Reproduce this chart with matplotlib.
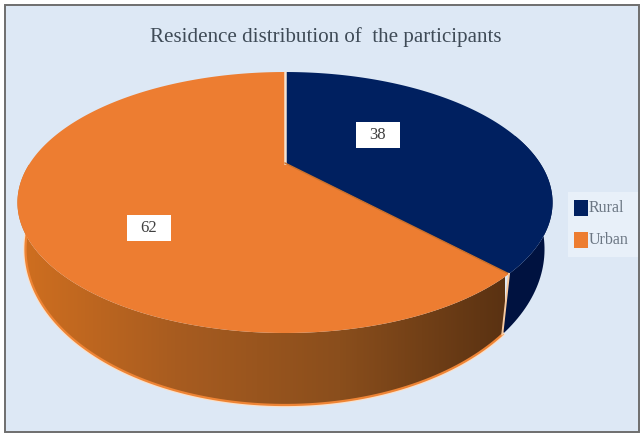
import numpy as np
import matplotlib
matplotlib.use("Agg")
import matplotlib.pyplot as plt
from matplotlib.patches import Rectangle, Polygon

TITLE = "Residence distribution of  the participants"
categories = ["Rural", "Urban"]
values = [38, 62]
colors = ["#002060", "#ED7D31"]

CX, CY = 285, 163      # pie centre after projection
KX, KY, PERSP = 255, 69.2, -0.3027
DEPTH, BOTTOM_SCALE = 72, 0.97


def project(theta, r=1.0, lower=False):
    # theta clockwise from 12 o'clock, tilted disc with some perspective
    X = r * np.sin(theta)
    t = -r * np.cos(theta)
    w = 1 + PERSP * t
    x = CX + KX * X / w
    y = CY + (KY * t + 163) / w - 163
    if lower:
        x = CX + (x - CX) * BOTTOM_SCALE
        y = y + DEPTH * (0.3 + 0.7 * (y - 72) / 261)
    return x, y


fig = plt.figure(figsize=(6.44, 4.34), dpi=100)
ax = fig.add_axes([0, 0, 1, 1])
ax.set_xlim(0, 644)
ax.set_ylim(434, 0)
ax.axis("off")

ax.add_patch(Rectangle((5.5, 4.5), 634, 427, fc="#DDE8F5", ec="#6E6E6E", lw=1.4))

fracs = np.array(values) / sum(values)
edges = np.concatenate([[0], np.cumsum(fracs)]) * 2 * np.pi
rural = np.linspace(edges[0], edges[1], 120)
urban = np.linspace(edges[1], edges[2], 200)

# side walls, only the part facing the viewer
side_r = rural[(rural > np.pi * 0.42)]
xt, yt = project(side_r)
xb, yb = project(side_r, lower=True)
ax.add_patch(Polygon(np.r_[np.c_[xt, yt], np.c_[xb, yb][::-1]], fc="#001240", ec="none"))

side_u = urban[urban < np.pi * 1.5]
xt, yt = project(side_u)
xb, yb = project(side_u, lower=True)
outline = np.r_[np.c_[xt, yt], np.c_[xb, yb][::-1]]
ax.plot(xb, yb, color="#FBE0C8", lw=3.2, zorder=2)
ax.plot(xb, yb, color="#EE8435", lw=1.6, zorder=3)
wall = Polygon(outline, fc="none", ec="none", zorder=3)
ax.add_patch(wall)
grad_colors = ["#D2701F", "#A85C20", "#8A4E1C", "#5A3212"]
cmap = matplotlib.colors.LinearSegmentedColormap.from_list("wall", grad_colors)
img = ax.imshow(np.linspace(0, 1, 256)[None, :], cmap=cmap, aspect="auto",
                extent=[10, 505, 434, 0], zorder=2.5)
img.set_clip_path(wall)
ax.set_xlim(0, 644)
ax.set_ylim(434, 0)

# top faces
for ang, col in [(rural, colors[0]), (urban, colors[1])]:
    x, y = project(ang)
    ax.add_patch(Polygon(np.r_[[[CX, CY]], np.c_[x, y]], fc=col, ec="none", zorder=4))

# light separators between the slices
x, y = project(edges[0])
ax.plot([CX, x], [CY, y], color="#F4E3D3", lw=1.8, zorder=5)
x, y = project(edges[1])
ax.plot([CX, x], [CY, y], color="#C96F2A", lw=1.0, zorder=5)
x0, y0 = project(edges[1])
x1, y1 = project(edges[1], lower=True)
ax.plot([x0, x1], [y0, y1], color="#F6C9A0", lw=1.4, zorder=5)

ax.text(326, 37, TITLE, family="Liberation Serif", fontsize=15.1, color="#3F4B57",
        ha="center", va="center", zorder=6)

# data labels
label_pos = [(378, 135), (149, 228)]
for (lx, ly), v in zip(label_pos, values):
    ax.add_patch(Rectangle((lx - 22, ly - 13), 44, 26, fc="white", ec="none", zorder=6))
    ax.text(lx, ly, str(v), family="Liberation Serif", fontsize=12, color="#404040",
            ha="center", va="center", zorder=7)

# legend
ax.add_patch(Rectangle((568, 192), 70, 65, fc="#E8F0F9", ec="none", zorder=6))
for i, (name, col) in enumerate(zip(categories, colors)):
    yy = 208 + 32 * i
    ax.add_patch(Rectangle((574, yy - 8), 14, 16, fc=col, ec="none", zorder=7))
    ax.text(589, yy, name, family="Liberation Serif", fontsize=11.5, color="#6B7683",
            ha="left", va="center", zorder=7)

fig.savefig("out.png", dpi=100)
